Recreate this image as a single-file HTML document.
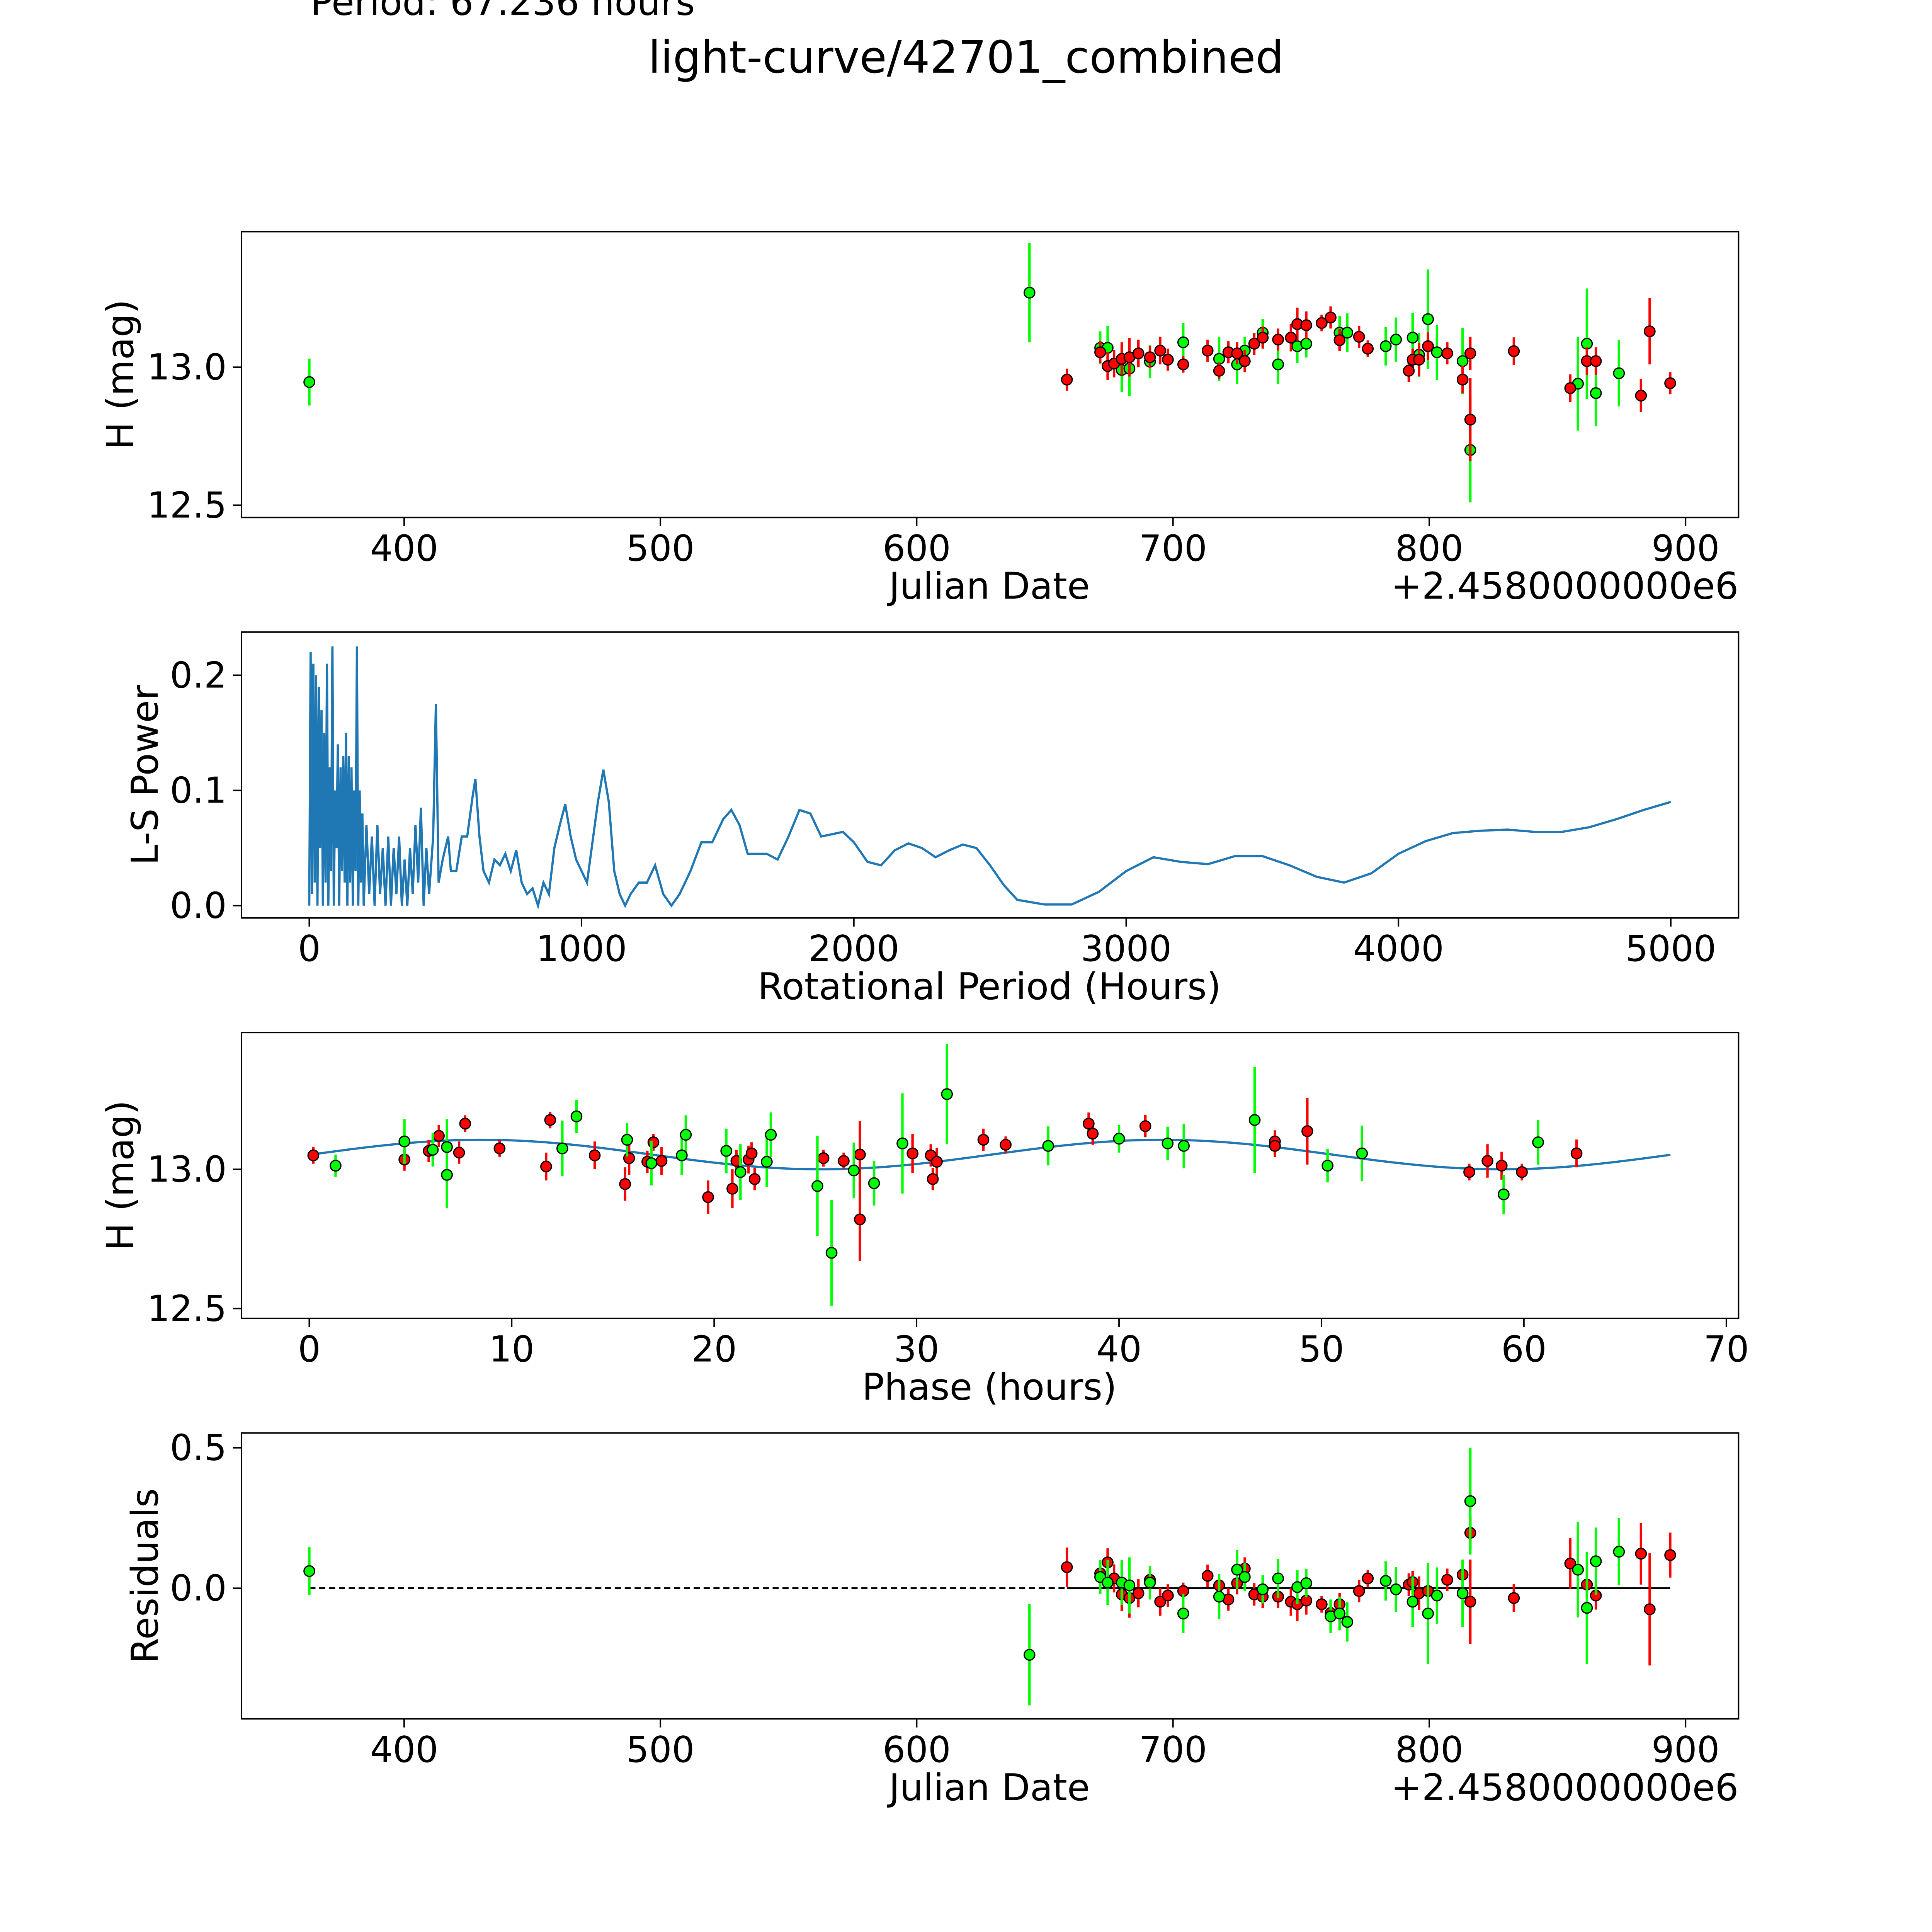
<!DOCTYPE html>
<html><head><meta charset="utf-8"><style>
html,body{margin:0;padding:0;background:#fff;overflow:hidden;width:100%;height:100%;}
svg{display:block;width:100vw;height:100vh;font-family:"DejaVu Sans","Liberation Sans",sans-serif;}
</style></head><body>
<svg id="fig" xmlns="http://www.w3.org/2000/svg" viewBox="0 0 1568 1568" preserveAspectRatio="none">
<rect x="0" y="0" width="1568" height="1568" fill="#fff"/>
<text x="252" y="12" font-size="30">Period: 67.236 hours</text>
<text x="784" y="59" font-size="36" text-anchor="middle">light-curve/42701_combined</text>
</svg>
<script>
// ---- Data ----
const lcGreen = [[363,12.946,0.085],[644,13.27,0.18],[671.6,13.07,0.06],[674.5,13.07,0.08],[680,12.99,0.08],[683,12.995,0.1],[691,13.02,0.06],[704,13.09,0.07],[718,13.03,0.08],[725,13.01,0.07],[728,13.06,0.05],[735,13.125,0.05],[741,13.01,0.07],[748.5,13.076,0.06],[752,13.085,0.05],[765,13.125,0.06],[768,13.125,0.07],[783,13.076,0.07],[787,13.10,0.08],[793.5,13.107,0.09],[796,13.045,0.08],[799.5,13.174,0.18],[803,13.054,0.1],[813,13.022,0.12],[816,12.70,0.19],[858,12.94,0.17],[861.5,13.085,0.2],[865,12.906,0.12],[874,12.978,0.12]];
const lcRed = [[658.6,12.955,0.04],[671.6,13.054,0.04],[674.5,13.004,0.05],[677,13.013,0.05],[680,13.03,0.06],[683,13.036,0.07],[686.5,13.05,0.05],[691,13.036,0.04],[695,13.06,0.05],[698,13.027,0.04],[704,13.01,0.03],[713.5,13.06,0.04],[718,12.987,0.03],[721.6,13.054,0.04],[725,13.05,0.04],[728,13.022,0.04],[731.7,13.085,0.04],[735,13.107,0.04],[741,13.10,0.04],[746,13.107,0.05],[748.5,13.156,0.06],[752,13.152,0.05],[758,13.16,0.03],[761.5,13.18,0.04],[765,13.098,0.04],[772.6,13.11,0.04],[776,13.067,0.03],[792,12.987,0.04],[793.5,13.027,0.04],[796,13.027,0.06],[799.5,13.076,0.05],[807,13.05,0.04],[813,12.955,0.05],[816,13.05,0.06],[816,12.81,0.15],[833,13.058,0.05],[855,12.924,0.05],[861.5,13.022,0.05],[865,13.022,0.05],[882.6,12.897,0.06],[886,13.13,0.12],[894,12.942,0.04]];
const lsPeriod = [0,5,10,15,20,25,30,35,40,45,50,55,60,65,70,75,80,85,90,95,100,105,110,115,120,125,130,135,140,145,150,155,160,165,170,175,180,185,190,195,200,210,220,230,240,250,260,270,280,290,300,310,320,330,340,350,360,370,380,390,400,410,420,430,440,455,465,475,490,510,520,540,560,580,600,610,625,640,660,680,700,720,740,760,780,800,820,840,860,880,900,920,940,960,980,1000,1020,1040,1060,1080,1100,1120,1140,1160,1180,1210,1240,1270,1300,1330,1360,1400,1440,1480,1520,1550,1580,1610,1650,1680,1720,1760,1800,1840,1880,1920,1960,2000,2050,2100,2150,2200,2250,2300,2350,2400,2450,2500,2550,2600,2700,2800,2900,3000,3100,3200,3300,3400,3500,3600,3700,3800,3900,4000,4100,4200,4300,4400,4500,4600,4700,4800,4900,5000];
const lsPower = [0,0.22,0.01,0.21,0.02,0.2,0,0.19,0.05,0.17,0,0.15,0.02,0.21,0,0.12,0.03,0.225,0,0.1,0.05,0.14,0,0.12,0.03,0.13,0.02,0.15,0,0.13,0.02,0.12,0,0.1,0.03,0.225,0,0.1,0.02,0.08,0,0.07,0.01,0.06,0,0.07,0.01,0.05,0,0.06,0,0.05,0.01,0.06,0,0.04,0,0.05,0.01,0.07,0.02,0.085,0,0.05,0.01,0.06,0.175,0.02,0.04,0.06,0.03,0.03,0.06,0.06,0.095,0.11,0.06,0.03,0.02,0.04,0.035,0.045,0.03,0.048,0.02,0.01,0.015,0,0.02,0.01,0.05,0.07,0.088,0.06,0.04,0.03,0.02,0.055,0.09,0.118,0.09,0.03,0.01,0,0.01,0.02,0.02,0.035,0.01,0,0.01,0.03,0.055,0.055,0.075,0.083,0.07,0.045,0.045,0.045,0.04,0.06,0.083,0.08,0.06,0.062,0.064,0.055,0.038,0.035,0.048,0.054,0.05,0.042,0.048,0.053,0.05,0.035,0.018,0.005,0.001,0.001,0.012,0.03,0.042,0.038,0.036,0.043,0.043,0.035,0.025,0.02,0.028,0.045,0.056,0.063,0.065,0.066,0.064,0.064,0.068,0.075,0.083,0.09];
const phRed = [[0.2,13.05,0.03],[4.7,13.035,0.04],[5.9,13.066,0.04],[6.4,13.12,0.04],[7.4,13.06,0.04],[7.7,13.164,0.03],[9.4,13.075,0.03],[11.7,13.01,0.05],[11.9,13.177,0.03],[14.1,13.05,0.05],[15.6,12.947,0.06],[15.8,13.04,0.06],[16.7,13.027,0.04],[17.0,13.097,0.03],[17.4,13.03,0.05],[19.7,12.90,0.06],[20.9,12.93,0.07],[21.1,13.03,0.04],[21.7,13.035,0.05],[21.85,13.057,0.04],[22.0,12.965,0.04],[25.4,13.04,0.03],[26.4,13.03,0.03],[27.2,12.82,0.15],[27.2,13.053,0.12],[29.8,13.057,0.07],[30.7,13.05,0.04],[30.8,12.965,0.04],[31.0,13.027,0.05],[33.3,13.106,0.04],[34.4,13.088,0.03],[38.5,13.164,0.04],[38.7,13.128,0.04],[41.3,13.155,0.04],[47.7,13.10,0.04],[47.7,13.084,0.04],[49.3,13.137,0.12],[57.3,12.99,0.03],[58.2,13.03,0.06],[58.9,13.013,0.05],[59.9,12.99,0.03],[62.6,13.057,0.05]];
const phGreen = [[1.3,13.013,0.04],[4.7,13.10,0.08],[6.1,13.07,0.06],[6.8,12.98,0.12],[6.8,13.08,0.1],[12.5,13.075,0.1],[13.2,13.19,0.06],[15.7,13.106,0.06],[16.9,13.022,0.08],[18.4,13.05,0.07],[18.6,13.124,0.07],[20.6,13.066,0.08],[21.3,12.99,0.1],[22.6,13.027,0.09],[22.8,13.124,0.08],[25.1,12.94,0.18],[25.8,12.70,0.19],[26.9,12.996,0.1],[27.9,12.95,0.08],[29.3,13.093,0.18],[31.5,13.27,0.18],[36.5,13.084,0.07],[40.0,13.11,0.05],[42.4,13.093,0.06],[43.2,13.084,0.08],[46.7,13.177,0.19],[50.3,13.013,0.06],[52.0,13.057,0.1],[59.0,12.91,0.07],[60.7,13.097,0.08]];
const resGreen = [[363,0.061,0.085],[644,-0.237,0.18],[671.6,0.04,0.06],[674.5,0.02,0.08],[680,0.02,0.08],[683,0.01,0.1],[691,0.02,0.06],[704,-0.09,0.07],[718,-0.03,0.08],[725,0.066,0.07],[728,0.04,0.05],[735,-0.004,0.05],[741,0.035,0.07],[748.5,0.004,0.06],[752,0.018,0.05],[761.5,-0.1,0.06],[765,-0.09,0.06],[768,-0.12,0.07],[783,0.026,0.07],[787,-0.004,0.08],[793.5,-0.048,0.09],[799.5,-0.09,0.18],[803,-0.026,0.1],[813,-0.018,0.12],[816,0.31,0.19],[858,0.066,0.17],[861.5,-0.07,0.2],[865,0.096,0.12],[874,0.13,0.12]];
const resRed = [[658.6,0.075,0.07],[671.6,0.053,0.04],[674.5,0.092,0.05],[677,0.035,0.05],[680,-0.022,0.06],[683,-0.035,0.07],[686.5,-0.018,0.05],[691,0.03,0.04],[695,-0.048,0.05],[698,-0.026,0.04],[704,-0.01,0.03],[713.5,0.044,0.04],[718,0.01,0.03],[721.6,-0.04,0.04],[725,0.018,0.04],[728,0.07,0.04],[731.7,-0.022,0.04],[735,-0.03,0.04],[741,-0.03,0.04],[746,-0.048,0.05],[748.5,-0.057,0.06],[752,-0.044,0.05],[758,-0.057,0.03],[761.5,-0.088,0.04],[765,-0.057,0.04],[772.6,-0.01,0.04],[776,0.035,0.03],[792,0.013,0.04],[793.5,0.022,0.04],[796,-0.018,0.06],[799.5,-0.01,0.05],[807,0.03,0.04],[813,0.048,0.05],[816,0.197,0.06],[816,-0.048,0.15],[833,-0.035,0.05],[855,0.088,0.09],[861.5,0.013,0.05],[865,-0.026,0.05],[882.6,0.123,0.11],[886,-0.075,0.2],[894,0.118,0.08]];
const modelMean = 13.053, modelAmp = 0.053, modelPeriod = 67.236, modelPeak = 8.5;
const jdTicks = [400,500,600,700,800,900];
const magTicks = [12.5,13.0];
const lsXTicks = [0,1000,2000,3000,4000,5000];
const lsYTicks = [0.0,0.1,0.2];
const phTicks = [0,10,20,30,40,50,60,70];
const resTicks = [0.0,0.5];

// ---- Scales ----
const sxJD = v => 328 + (v - 400) * 2.08;
const syLC = v => 298 - (v - 13) * 224;
const sxLS = v => 251 + v * 0.221;
const syLS = v => 735 - v * 935;
const sxPH = v => 251 + v * 16.43;
const syPH = v => 949 - (v - 13) * 226;
const syRES = v => 1289 - v * 228;

const NS = 'http://www.w3.org/2000/svg';
const svg = document.getElementById('fig');
function mk(tag, attrs, parent) {
  const e = document.createElementNS(NS, tag);
  for (const k in attrs) e.setAttribute(k, attrs[k]);
  (parent || svg).appendChild(e);
  return e;
}
function panel(name, y0, y1, sx, sy, xt, yt, xfmt, yfmt, xlabel, ylabel, ylx, offset) {
  const g = mk('g', {});
  
  
  const fr = mk('rect', {x:196, y:y0, width:1215, height:y1-y0, fill:'none', stroke:'#000', 'stroke-width':1.2}, g);
  
  
  xt.forEach(v => {
    const x = sx(v);
    const t = mk('line', {x1:x, x2:x, y1:y1, y2:y1+7, stroke:'#000', 'stroke-width':1.2}, g);
    
    
    const l = mk('text', {x:x, y:y1+35, 'font-size':29, 'text-anchor':'middle'}, g);
    l.textContent = xfmt(v);
    
    
  });
  yt.forEach(v => {
    const y = sy(v);
    const t = mk('line', {x1:189, x2:196, y1:y, y2:y, stroke:'#000', 'stroke-width':1.2}, g);
    
    
    const l = mk('text', {x:184, y:y+10, 'font-size':29, 'text-anchor':'end'}, g);
    l.textContent = yfmt(v);
    
    
  });
  const xl = mk('text', {x:803, y:y1+66, 'font-size':30, 'text-anchor':'middle'}, g);
  xl.textContent = xlabel;
  
  
  const cy = (y0 + y1) / 2;
  const yl = mk('text', {x:ylx, y:cy, 'font-size':30, 'text-anchor':'middle', transform:'rotate(-90 '+ylx+' '+cy+')'}, g);
  yl.textContent = ylabel;
  
  
  if (offset) {
    const o = mk('text', {x:1411, y:y1+66, 'font-size':30, 'text-anchor':'end'}, g);
    o.textContent = '+2.4580000000e6';
    
    
  }
  return g;
}
function points(g, arr, sx, sy, color, nm) {
  arr.forEach(p => {
    const x = sx(p[0]);
    const eb = mk('line', {x1:x, x2:x, y1:sy(p[1]-p[2]), y2:sy(p[1]+p[2]), stroke:color, 'stroke-width':2}, g);
    
    
  });
  arr.forEach(p => {
    const c = mk('circle', {cx:sx(p[0]), cy:sy(p[1]), r:4.3, fill:color, stroke:'#000', 'stroke-width':1}, g);
    
    
  });
}
const f1 = v => v.toFixed(1);
const f0 = v => String(v);

// Panel 1
const g1 = panel('light-curve-panel', 188, 420, sxJD, syLC, jdTicks, magTicks, f0, f1, 'Julian Date', 'H (mag)', 108, true);
points(g1, lcGreen, sxJD, syLC, '#00ff00', 'green-obs');
points(g1, lcRed, sxJD, syLC, '#ff0000', 'red-obs');

// Panel 2
const g2 = panel('periodogram-panel', 513, 745, sxLS, syLS, lsXTicks, lsYTicks, f0, f1, 'Rotational Period (Hours)', 'L-S Power', 128, false);
const lsPts = lsPeriod.map((p, i) => sxLS(p).toFixed(2) + ',' + syLS(lsPower[i]).toFixed(2)).join(' ');
const pl = mk('polyline', {points:lsPts, fill:'none', stroke:'#1f77b4', 'stroke-width':1.8}, g2);



// Panel 3
const g3 = panel('phase-panel', 838, 1070, sxPH, syPH, phTicks, magTicks, f0, f1, 'Phase (hours)', 'H (mag)', 108, false);
const mp = [];
for (let i = 0; i <= 200; i++) {
  const ph = modelPeriod * i / 200;
  const m = modelMean + modelAmp * Math.cos(4 * Math.PI * (ph - modelPeak) / modelPeriod);
  mp.push(sxPH(ph).toFixed(2) + ',' + syPH(m).toFixed(2));
}
const ml = mk('polyline', {points:mp.join(' '), fill:'none', stroke:'#1f77b4', 'stroke-width':1.8}, g3);


points(g3, phRed, sxPH, syPH, '#ff0000', 'red-phase');
points(g3, phGreen, sxPH, syPH, '#00ff00', 'green-phase');

// Panel 4
const g4 = panel('residuals-panel', 1163, 1395, sxJD, syRES, jdTicks, resTicks, f0, f1, 'Julian Date', 'Residuals', 128, true);
const z1 = mk('line', {x1:sxJD(363), x2:sxJD(658.6), y1:syRES(0), y2:syRES(0), stroke:'#000', 'stroke-width':1.5, 'stroke-dasharray':'5,3'}, g4);


const z2 = mk('line', {x1:sxJD(658.6), x2:sxJD(894), y1:syRES(0), y2:syRES(0), stroke:'#000', 'stroke-width':1.5}, g4);


points(g4, resRed, sxJD, syRES, '#ff0000', 'red-residual');
points(g4, resGreen, sxJD, syRES, '#00ff00', 'green-residual');
</script>
</body></html>
